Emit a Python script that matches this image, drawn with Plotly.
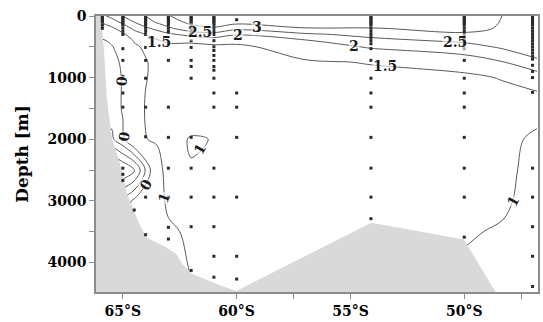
import plotly.graph_objects as go

# ---- gridded section values (one profile per latitude, °S) ----
depths = [0, 100, 200, 300, 400, 500, 750, 1000, 1500, 2000, 2500, 3000, 3500, 4000, 4500]

prof_46_8 = [2.80, 2.80, 2.78, 2.75, 2.70, 2.65, 2.45, 1.70, 1.25, 0.87, 0.80, 0.80, 0.80, 0.80, 0.80]
prof_48_3 = [2.99, 2.96, 2.93, 2.85, 2.70, 2.58, 1.98, 1.53, 1.25, 1.20, 1.15, 1.08, 0.95, 0.90, 0.90]
prof_50_0 = [3.40, 3.35, 3.20, 2.90, 2.60, 2.30, 1.72, 1.40, 1.30, 1.25, 1.20, 1.15, 1.05, 0.95, 0.90]
prof_54_1 = [3.50, 3.30, 2.97, 2.65, 2.35, 2.05, 1.52, 1.40, 1.35, 1.30, 1.25, 1.20, 1.15, 1.10, 1.10]
prof_57_0 = [3.40, 3.25, 2.98, 2.40, 1.95, 1.75, 1.45, 1.40, 1.35, 1.30, 1.25, 1.20, 1.15, 1.10, 1.10]
prof_60_0 = [3.30, 3.15, 2.65, 2.03, 1.65, 1.40, 1.35, 1.30, 1.30, 1.25, 1.25, 1.20, 1.15, 1.10, 1.10]
prof_61_0 = [3.30, 3.20, 2.95, 2.30, 1.70, 1.40, 1.30, 1.30, 1.25, 1.01, 1.15, 1.20, 1.15, 1.10, 1.10]
prof_62_0 = [3.20, 3.10, 2.85, 2.15, 1.60, 1.35, 1.30, 1.30, 1.25, 0.97, 1.02, 1.15, 1.10, 1.03, 0.98]
prof_63_0 = [2.98, 2.80, 2.40, 1.90, 1.60, 1.35, 1.25, 1.25, 1.25, 1.15, 1.40, 1.12, 0.90, 0.85, 0.85]
prof_63_5 = [2.75, 2.55, 2.15, 1.70, 1.45, 1.25, 1.20, 1.15, 1.15, 1.10, 0.60, 0.75, 0.70, 0.70, 0.70]
prof_64_0 = [2.50, 2.30, 1.90, 1.50, 1.25, 1.10, 0.95, 0.97, 1.05, 0.98, -0.45, 0.50, 0.50, 0.60, 0.60]
prof_64_5 = [2.20, 2.00, 1.60, 1.30, 1.05, 0.90, 0.60, 0.55, 0.55, 0.60, -1.60, 0.10, 0.30, 0.30, 0.30]
prof_65_0 = [2.00, 1.60, 1.25, 0.90, 0.60, 0.30, 0.10, 0.05, 0.05, -0.10, -2.00, -0.30, -0.30, -0.30, -0.30]
prof_65_5 = [1.60, 1.30, 0.90, 0.60, 0.10, -0.05, -0.20, -0.30, -0.30, -0.60, -2.20, -0.50, -0.50, -0.50, -0.50]
prof_66_2 = [1.30, 0.90, 0.60, 0.10, -0.20, -0.30, -0.40, -0.40, -0.40, -0.60, -2.20, -0.50, -0.50, -0.50, -0.50]

grid_lats = [46.8, 48.3, 50.0, 54.1, 57.0, 60.0, 61.0, 62.0, 63.0, 63.5, 64.0, 64.5, 65.0, 65.5, 66.2]
profiles = [prof_46_8, prof_48_3, prof_50_0, prof_54_1, prof_57_0, prof_60_0, prof_61_0,
            prof_62_0, prof_63_0, prof_63_5, prof_64_0, prof_64_5, prof_65_0, prof_65_5, prof_66_2]

# contour levels: cold core near the slope, then the upper water column
cold_levels = dict(start=-1.5, end=0.0, size=0.5)
warm_levels = dict(start=1.0, end=3.0, size=0.5)

# contour labels: (°S, depth, text, angle)
label_lat = [59.1, 59.95, 61.6, 63.4, 54.85, 53.5, 50.4, 47.85, 61.62, 65.06, 64.93, 64.0, 63.2]
label_dep = [185, 310, 262, 425, 490, 810, 428, 3000, 2160, 1050, 1950, 2740, 2950]
label_txt = ["3", "2", "2.5", "1.5", "2", "1.5", "2.5", "1", "1", "0", "0", "0", "1"]
label_ang = [0, 0, 0, 0, 0, 0, 0, -62, -60, -85, -80, -60, -70]

# ---- bottom topography (°S, m) ----
bottom_lat = [66.18, 65.96, 65.83, 65.70, 65.48, 65.13, 64.83, 64.56, 64.26, 63.95, 63.38,
              63.08, 62.64, 62.38, 61.94, 61.33, 60.76, 60.02, 54.08, 50.02, 48.62, 48.50, 66.18]
bottom_dep = [0, 0, 546, 1348, 1990, 2390, 2873, 3114, 3387, 3595, 3708,
              3756, 3868, 4029, 4189, 4286, 4366, 4462, 3355, 3627, 4478, 4500, 4500]

# ---- sampling depths at each station ----
top = [10, 30, 50, 75, 100, 125, 150, 200, 250]
stations = {
    65.9: [10, 30, 50, 75, 100, 150, 200],
    65.0: top + [300, 530, 720, 980, 1250, 1480, 2000, 2470, 2570, 2670],
    64.5: [3150],
    64.0: top + [300, 510, 720, 1010, 1480, 1960, 2940, 3550],
    63.0: top + [270, 720, 1480, 1970, 2470, 2940, 3430, 3620],
    62.0: top + [300, 400, 510, 720, 820, 1010, 1970, 2470, 2940, 3420, 4130],
    61.0: top + [300, 400, 500, 560, 640, 720, 820, 880, 1010, 1250, 1480, 2470, 2940, 3420, 3900, 4240],
    60.0: [60, 1250, 1480, 1970, 2940, 3900, 4270],
    54.1: top + [300, 350, 400, 450, 530, 720, 1010, 1250, 1480, 1970, 2470, 2940, 3290],
    50.0: top + [300, 350, 400, 450, 530, 720, 1010, 1250, 1480, 1970, 2470, 2940, 3590],
    47.0: top + [300, 350, 400, 450, 500, 550, 600, 650, 700, 800, 900, 1000, 1240,
                 2470, 2940, 3420, 3900, 4390],
}

z = [[prof[i] for prof in profiles] for i in range(len(depths))]

serif = "DejaVu Serif"
axis_grey = "#8c8c8c"
line_grey = "#5a5a5a"

fig = go.Figure()

for lv in (cold_levels, warm_levels):
    fig.add_trace(go.Contour(
        x=grid_lats, y=depths, z=z,
        contours=dict(coloring="none", showlabels=False, **lv),
        line=dict(color=line_grey, width=1, smoothing=1),
        showscale=False, hoverinfo="skip",
    ))

fig.add_trace(go.Scatter(
    x=bottom_lat, y=bottom_dep, mode="lines", fill="toself",
    fillcolor="#d9d9d9", line=dict(width=0, color="#d9d9d9"),
    hoverinfo="skip", showlegend=False,
))

sx, sy = [], []
for lat, deps in stations.items():
    sx += [lat] * len(deps)
    sy += deps
fig.add_trace(go.Scatter(
    x=sx, y=sy, mode="markers",
    marker=dict(symbol="square", size=3, color="#2a2a2a", line=dict(width=0)),
    hoverinfo="skip", showlegend=False,
))

for lat, dep, txt, ang in zip(label_lat, label_dep, label_txt, label_ang):
    fig.add_annotation(
        x=lat, y=dep, text=txt, textangle=ang, showarrow=False,
        font=dict(family=serif, size=14, color="#1a1a1a", weight="bold"),
        bgcolor="rgba(255,255,255,0.6)", borderpad=0,
    )

tickfont = dict(family=serif, size=14, color="black", weight="bold")
fig.update_layout(
    width=543, height=322,
    margin=dict(l=96, r=3, t=16, b=27),
    paper_bgcolor="white", plot_bgcolor="white",
    showlegend=False,
    xaxis=dict(
        range=[66.18, 46.76],
        tickmode="array", tickvals=[65, 60, 55, 50],
        ticktext=["65°S", "60°S", "55°S", "50°S"],
        ticks="outside", ticklen=5, tickwidth=1, tickcolor=axis_grey,
        minor=dict(tickvals=[57.5, 47.5], ticks="outside", ticklen=5, tickcolor=axis_grey),
        showline=True, linecolor=axis_grey, linewidth=1.5, mirror=True,
        showgrid=False, zeroline=False, tickfont=tickfont,
    ),
    yaxis=dict(
        range=[4480, 0],
        tickmode="array", tickvals=[0, 1000, 2000, 3000, 4000],
        ticks="outside", ticklen=5, tickwidth=1, tickcolor=axis_grey,
        minor=dict(tickvals=[500, 1500, 2500, 3500], ticks="outside", ticklen=5, tickcolor=axis_grey),
        showline=True, linecolor=axis_grey, linewidth=1.5, mirror=True,
        showgrid=False, zeroline=False, tickfont=tickfont,
        title=dict(text="Depth [m]", font=dict(family=serif, size=17, color="black", weight="bold")),
    ),
)

fig.write_html("out.html")
